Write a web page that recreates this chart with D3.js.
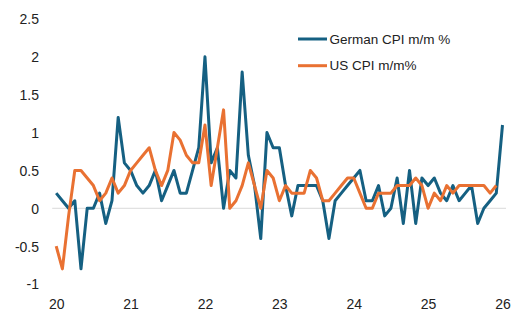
<!DOCTYPE html>
<html>
<head>
<meta charset="utf-8">
<script src="https://cdn.jsdelivr.net/npm/d3@7"></script>
<style>
  body { margin: 0; background: #fff; }
  svg text { font-family: "Liberation Sans", Arial, sans-serif; fill: #222; }
</style>
</head>
<body>
<div id="chart"></div>
<script>
// monthly CPI change in %, one value per month starting Jan 2020
var yearLabels = ["20", "21", "22", "23", "24", "25", "26"];
var yTicks = [-1, -0.5, 0, 0.5, 1, 1.5, 2, 2.5];
var yTickLabels = ["-1", "-0.5", "0", "0.5", "1", "1.5", "2", "2.5"];
var seriesNames = ["German CPI m/m %", "US CPI m/m%"];

var germanCpi = [
  0.2, 0.1, 0.0, 0.1, -0.8, 0.0, 0.0, 0.2, -0.2, 0.1, 1.2, 0.6,
  0.5, 0.3, 0.2, 0.3, 0.5, 0.1, 0.3, 0.5, 0.2, 0.2, 0.5, 0.8,
  2.0, 0.6, 0.8, 0.0, 0.5, 0.4, 1.8, 0.7, 0.3, -0.4, 1.0, 0.8,
  0.8, 0.3, -0.1, 0.3, 0.3, 0.3, 0.3, 0.1, -0.4, 0.1, 0.2, 0.3,
  0.4, 0.5, 0.1, 0.1, 0.3, -0.1, 0.0, 0.4, -0.2, 0.5, -0.2, 0.4,
  0.3, 0.4, 0.2, 0.1, 0.3, 0.1, 0.2, 0.3, -0.2, 0.0, 0.1, 0.2,
  1.1
];

var usCpi = [
  -0.5, -0.8, -0.1, 0.5, 0.5, 0.4, 0.3, 0.1, 0.2, 0.4, 0.2, 0.3,
  0.5, 0.6, 0.7, 0.8, 0.5, 0.3, 0.5, 1.0, 0.9, 0.7, 0.6, 0.6,
  1.1, 0.3, 0.8, 1.3, 0.0, 0.1, 0.3, 0.6, 0.3, 0.0, 0.5, 0.4,
  0.1, 0.3, 0.2, 0.2, 0.2, 0.5, 0.4, 0.1, 0.1, 0.2, 0.3, 0.4,
  0.4, 0.2, 0.0, 0.0, 0.2, 0.2, 0.2, 0.3, 0.3, 0.3, 0.4, 0.3,
  0.0, 0.2, 0.1, 0.3, 0.2, 0.3, 0.3, 0.3, 0.3, 0.3, 0.2, 0.3
];

var colors = ["#156082", "#E97132"];

var width = 525, height = 327;

var svg = d3.select("#chart").append("svg")
    .attr("width", width)
    .attr("height", height);

var lastMonth = (yearLabels.length - 1) * 12;

var x = d3.scaleLinear()
    .domain([0, lastMonth])
    .range([56.2, 502.5]);

var y = d3.scaleLinear()
    .domain([-1, 2.5])
    .range([284, 19]);

// zero line
svg.append("line")
    .attr("x1", x(0) - 4)
    .attr("x2", x(lastMonth) + 3.5)
    .attr("y1", y(0))
    .attr("y2", y(0))
    .style("stroke", "#d9d9d9")
    .style("stroke-width", 1);

// y axis labels
var yAxis = svg.append("g")
    .attr("transform", "translate(39,0)")
    .call(d3.axisLeft(y)
        .tickValues(yTicks)
        .tickFormat(function(d, i) { return yTickLabels[i]; })
        .tickSize(0)
        .tickPadding(0));
yAxis.select(".domain").remove();
yAxis.selectAll("text")
    .style("font-size", "14px")
    .attr("dy", "0.35em");

// x axis labels, one per January
var xAxis = svg.append("g")
    .attr("transform", "translate(0,299.4)")
    .call(d3.axisBottom(x)
        .tickValues(yearLabels.map(function(d, i) { return i * 12; }))
        .tickFormat(function(d, i) { return yearLabels[i]; })
        .tickSize(0)
        .tickPadding(0));
xAxis.select(".domain").remove();
xAxis.selectAll("text").style("font-size", "14px");

var line = d3.line()
    .x(function(d, i) { return x(i); })
    .y(function(d) { return y(d); });

[germanCpi, usCpi].forEach(function(series, k) {
    svg.append("path")
        .datum(series)
        .attr("d", line)
        .style("fill", "none")
        .style("stroke", colors[k])
        .style("stroke-width", 3)
        .style("stroke-linejoin", "round");
});

// legend
var legend = svg.append("g");
seriesNames.forEach(function(name, k) {
    var ly = 39 + k * 26.7;
    legend.append("line")
        .attr("x1", 298)
        .attr("x2", 327)
        .attr("y1", ly)
        .attr("y2", ly)
        .style("stroke", colors[k])
        .style("stroke-width", 3);
    legend.append("text")
        .attr("x", 329.5)
        .attr("y", ly)
        .attr("dy", "0.35em")
        .style("font-size", "13.5px")
        .text(name);
});
</script>
</body>
</html>
